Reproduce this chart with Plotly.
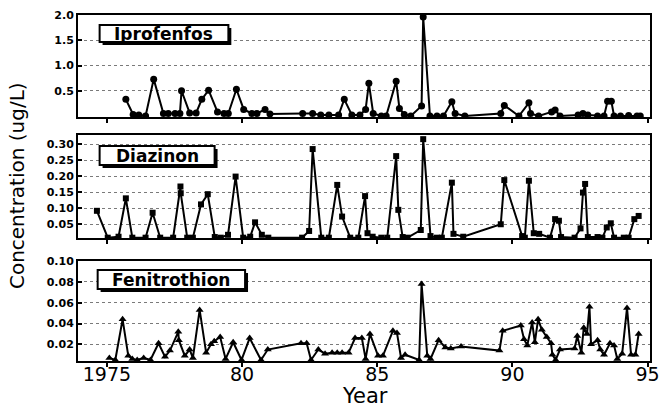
import plotly.graph_objects as go

# ---------------- data ----------------
ipro_year = [1975.70, 1975.97, 1976.18, 1976.43, 1976.73, 1977.09, 1977.27, 1977.52, 1977.70, 1977.76,
             1978.06, 1978.30, 1978.51, 1978.76, 1979.09, 1979.33, 1979.49, 1979.79, 1980.06, 1980.36,
             1980.55, 1980.85, 1981.03, 1982.24, 1982.61, 1982.91, 1983.21, 1983.57, 1983.78, 1984.06,
             1984.36, 1984.57, 1984.69, 1984.85, 1985.15, 1985.33, 1985.70, 1985.82, 1986.00, 1986.24,
             1986.64, 1986.70, 1986.95, 1987.21, 1987.45, 1987.76, 1987.88, 1988.24, 1989.57, 1989.70,
             1990.24, 1990.61, 1990.67, 1990.97, 1991.45, 1991.58, 1991.76, 1992.43, 1992.61, 1992.79,
             1993.15, 1993.39, 1993.52, 1993.66, 1993.76, 1994.00, 1994.30, 1994.61, 1994.73]
ipro_conc = [0.33, 0.03, 0.02, 0.00, 0.73, 0.05, 0.05, 0.05, 0.05, 0.50,
             0.06, 0.06, 0.33, 0.51, 0.08, 0.05, 0.05, 0.53, 0.13, 0.05,
             0.05, 0.13, 0.04, 0.05, 0.05, 0.02, 0.02, 0.02, 0.33, 0.02,
             0.02, 0.13, 0.65, 0.05, 0.00, 0.00, 0.69, 0.15, 0.03, 0.00,
             0.20, 1.96, 0.00, 0.00, 0.00, 0.28, 0.05, 0.00, 0.05, 0.21,
             0.00, 0.26, 0.05, 0.00, 0.08, 0.12, 0.00, 0.02, 0.05, 0.02,
             0.00, 0.00, 0.29, 0.29, 0.00, 0.00, 0.01, 0.00, 0.00]

diaz_year = [1974.63, 1975.03, 1975.43, 1975.70, 1975.94, 1976.43, 1976.69, 1976.97, 1977.45, 1977.72,
             1977.73, 1977.97, 1978.18, 1978.48, 1978.73, 1978.99, 1979.21, 1979.48, 1979.76, 1980.04,
             1980.30, 1980.48, 1980.73, 1980.97, 1982.22, 1982.48, 1982.61, 1982.93, 1983.21, 1983.52,
             1983.70, 1984.00, 1984.30, 1984.55, 1984.64, 1984.83, 1985.15, 1985.37, 1985.70, 1985.78,
             1985.94, 1986.12, 1986.61, 1986.70, 1986.97, 1987.21, 1987.39, 1987.76, 1987.82, 1988.18,
             1989.57, 1989.70, 1990.36, 1990.46, 1990.61, 1990.79, 1990.99, 1991.39, 1991.58, 1991.72,
             1991.80, 1992.30, 1992.52, 1992.61, 1992.69, 1992.79, 1993.15, 1993.33, 1993.49, 1993.64,
             1993.76, 1994.12, 1994.30, 1994.51, 1994.67]
diaz_conc = [0.092, 0.008, 0.011, 0.131, 0.008, 0.008, 0.086, 0.008, 0.008, 0.168,
             0.147, 0.008, 0.008, 0.112, 0.144, 0.010, 0.008, 0.017, 0.199, 0.008,
             0.011, 0.056, 0.017, 0.008, 0.008, 0.029, 0.285, 0.008, 0.008, 0.173,
             0.074, 0.008, 0.008, 0.138, 0.022, 0.011, 0.008, 0.008, 0.263, 0.095,
             0.010, 0.008, 0.032, 0.316, 0.013, 0.008, 0.008, 0.180, 0.020, 0.011,
             0.050, 0.188, 0.013, 0.008, 0.186, 0.022, 0.020, 0.008, 0.066, 0.061,
             0.010, 0.008, 0.037, 0.149, 0.176, 0.010, 0.010, 0.008, 0.040, 0.053,
             0.008, 0.008, 0.008, 0.066, 0.076]

feni_year = [1975.09, 1975.31, 1975.58, 1975.79, 1975.94, 1976.12, 1976.36, 1976.61, 1976.91, 1977.15,
             1977.33, 1977.64, 1977.66, 1977.88, 1978.06, 1978.18, 1978.43, 1978.67, 1978.85, 1978.97,
             1979.19, 1979.39, 1979.67, 1979.98, 1980.28, 1980.70, 1980.95, 1982.18, 1982.39, 1982.55,
             1982.82, 1983.07, 1983.33, 1983.52, 1983.70, 1983.94, 1984.18, 1984.43, 1984.57, 1984.73,
             1985.03, 1985.21, 1985.58, 1985.73, 1985.88, 1986.03, 1986.55, 1986.64, 1986.85, 1986.97,
             1987.27, 1987.52, 1987.72, 1988.10, 1989.52, 1989.64, 1990.31, 1990.43, 1990.55, 1990.73,
             1990.83, 1990.95, 1991.09, 1991.27, 1991.43, 1991.48, 1991.60, 1991.76, 1992.30, 1992.40,
             1992.55, 1992.64, 1992.76, 1992.85, 1992.91, 1993.15, 1993.25, 1993.39, 1993.61, 1993.76,
             1993.88, 1994.06, 1994.24, 1994.39, 1994.55, 1994.67]
feni_conc = [0.007, 0.005, 0.044, 0.009, 0.006, 0.005, 0.007, 0.005, 0.021, 0.008,
             0.014, 0.032, 0.024, 0.009, 0.015, 0.007, 0.053, 0.012, 0.020, 0.023,
             0.027, 0.006, 0.022, 0.005, 0.026, 0.005, 0.015, 0.021, 0.021, 0.005,
             0.015, 0.011, 0.012, 0.012, 0.012, 0.012, 0.026, 0.026, 0.006, 0.030,
             0.009, 0.009, 0.033, 0.031, 0.007, 0.010, 0.005, 0.078, 0.009, 0.006,
             0.024, 0.017, 0.016, 0.018, 0.014, 0.033, 0.038, 0.025, 0.019, 0.041,
             0.022, 0.044, 0.034, 0.027, 0.021, 0.010, 0.005, 0.015, 0.016, 0.028,
             0.012, 0.036, 0.030, 0.056, 0.020, 0.024, 0.015, 0.010, 0.021, 0.019,
             0.006, 0.011, 0.055, 0.010, 0.010, 0.030]

panel_names = ["Iprofenfos", "Diazinon", "Fenitrothion"]
year_ticks = [1975, 1980, 1985, 1990, 1995]
year_ticktext = ["1975", "80", "85", "90", "95"]
ipro_ticks = [0.5, 1.0, 1.5, 2.0]
diaz_ticks = [0.05, 0.10, 0.15, 0.20, 0.25, 0.30]
feni_ticks = [0.02, 0.04, 0.06, 0.08, 0.10]

# ---------------- figure ----------------
W, H = 668, 407
ML, MR, MT, MB = 78, 8, 15, 46
PW, PH = W - ML - MR, H - MT - MB


def px_x(px):
    return (px - ML) / PW


def px_y(py):
    return (H - MB - py) / PH


fig = go.Figure()
line = dict(color="black", width=2)
fig.add_trace(go.Scatter(x=ipro_year, y=ipro_conc, mode="lines+markers", xaxis="x", yaxis="y",
                         line=line, marker=dict(symbol="circle", size=7, color="black")))
fig.add_trace(go.Scatter(x=diaz_year, y=diaz_conc, mode="lines+markers", xaxis="x2", yaxis="y2",
                         line=line, marker=dict(symbol="square", size=6, color="black")))
fig.add_trace(go.Scatter(x=feni_year, y=feni_conc, mode="lines+markers", xaxis="x3", yaxis="y3",
                         line=line, marker=dict(symbol="triangle-up", size=7, color="black")))

xcommon = dict(range=[1973.93, 1995.09], showline=True, linecolor="black", linewidth=2, mirror=True,
               showgrid=False, zeroline=False, tickvals=year_ticks, ticktext=year_ticktext,
               ticks="outside", ticklen=4, tickcolor="black", tickwidth=1.5)
ycommon = dict(showline=True, linecolor="black", linewidth=2, mirror=True, zeroline=False,
               showgrid=True, gridcolor="#7a7a7a", gridwidth=1, griddash="dot",
               ticks="inside", ticklen=4, tickcolor="black", tickwidth=1.5,
               tickfont=dict(family="DejaVu Sans", size=11, color="black", weight="bold"))

fig.update_layout(
    width=W, height=H, margin=dict(l=ML, r=MR, t=MT, b=MB),
    paper_bgcolor="white", plot_bgcolor="white", showlegend=False,
    xaxis=dict(xcommon, anchor="y", showticklabels=False),
    xaxis2=dict(xcommon, anchor="y2", showticklabels=False),
    xaxis3=dict(xcommon, anchor="y3", showticklabels=True,
                tickfont=dict(family="DejaVu Sans", size=19, color="black"), ticklabelstandoff=-9),
    yaxis=dict(ycommon, domain=[px_y(117), 1.0], range=[-0.02, 2.0], tickvals=ipro_ticks, tickformat=".1f"),
    yaxis2=dict(ycommon, domain=[px_y(238), px_y(135)], range=[0.007, 0.329], tickvals=diaz_ticks, tickformat=".2f"),
    yaxis3=dict(ycommon, domain=[0, px_y(261)], range=[0.004, 0.1], tickvals=feni_ticks, tickformat=".2f"),
)

# label boxes with drop shadow
boxes = [(100, 231, 25, 42), (100, 217, 146, 165), (98, 248, 270, 289)]
shapes = []
for (x0, x1, y0, y1) in boxes:
    shapes.append(dict(type="rect", xref="paper", yref="paper",
                       x0=px_x(x0 + 3), x1=px_x(x1 + 3), y0=px_y(y1 + 3), y1=px_y(y0 + 3),
                       fillcolor="black", line=dict(width=0), layer="above"))
    shapes.append(dict(type="rect", xref="paper", yref="paper",
                       x0=px_x(x0), x1=px_x(x1), y0=px_y(y1), y1=px_y(y0),
                       fillcolor="white", line=dict(color="black", width=2), layer="above"))
fig.update_layout(shapes=shapes)

annots = []
for name, (x0, x1, y0, y1) in zip(panel_names, boxes):
    annots.append(dict(text=name, xref="paper", yref="paper", x=px_x((x0 + x1) / 2), y=px_y((y0 + y1) / 2),
                       xanchor="center", yanchor="middle", showarrow=False,
                       font=dict(family="DejaVu Sans", size=17, color="black", weight="bold")))
annots.append(dict(text="Concentration (ug/L)", xref="paper", yref="paper", x=px_x(16), y=px_y(186),
                   xanchor="center", yanchor="middle", textangle=-90, showarrow=False,
                   font=dict(family="DejaVu Sans", size=20, color="black")))
annots.append(dict(text="Year", xref="paper", yref="paper", x=px_x(370), y=px_y(396),
                   xanchor="center", yanchor="middle", showarrow=False,
                   font=dict(family="DejaVu Sans", size=21, color="black")))
fig.update_layout(annotations=annots)

fig.write_html("out.html")
